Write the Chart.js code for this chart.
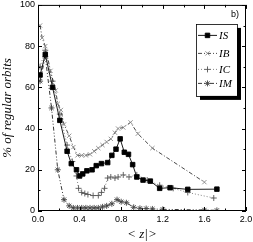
<!DOCTYPE html>
<html>
<head>
<meta charset="utf-8">
<script src="https://cdn.jsdelivr.net/npm/chart.js@4.4.0/dist/chart.umd.min.js"></script>
<style>
  html, body { margin: 0; padding: 0; background: #fff; }
  #wrap { width: 253px; height: 242px; }
</style>
</head>
<body>
<div id="wrap"><canvas id="myChart" width="253" height="242"></canvas></div>
<script>
// data
var isX = [0.02, 0.07, 0.14, 0.21, 0.28, 0.32, 0.37, 0.40, 0.43, 0.47, 0.52, 0.56, 0.61, 0.67, 0.71, 0.75, 0.79, 0.83, 0.87, 0.91, 0.95, 1.01, 1.08, 1.17, 1.27, 1.44, 1.72];
var isY = [66, 76, 60, 44, 29, 23, 20, 17, 18, 19.5, 20, 22, 23, 23.5, 27, 30, 35, 28.5, 27.5, 22.5, 16.5, 15, 14.5, 11, 11.3, 10.5, 10.6];

var ibX = [0.02, 0.04, 0.07, 0.12, 0.17, 0.19, 0.22, 0.25, 0.30, 0.34, 0.38, 0.42, 0.46, 0.50, 0.54, 0.58, 0.62, 0.66, 0.70, 0.74, 0.77, 0.82, 0.89, 0.96, 1.10, 1.60];
var ibY = [90, 84, 80, 68, 58.5, 52, 49, 42, 36.5, 31, 27, 27, 27, 27.5, 29, 30.5, 32, 33.5, 35, 38, 40, 40.5, 43, 37.5, 30.5, 14];

var icX = [0.02, 0.07, 0.14, 0.21, 0.28, 0.33, 0.37, 0.39, 0.42, 0.45, 0.48, 0.53, 0.58, 0.61, 0.64, 0.67, 0.70, 0.74, 0.77, 0.82, 0.875, 0.95, 1.05, 1.17, 1.30, 1.44, 1.69];
var icY = [70, 78, 63, 47, 32, 24, 17, 11, 9, 8.5, 8, 7.5, 7.5, 9, 11, 16, 16.5, 16, 16.5, 17.5, 16.5, 17.5, 15, 12.5, 11, 9, 6.3];

var imX = [0.02, 0.07, 0.13, 0.19, 0.25, 0.30, 0.34, 0.38, 0.42, 0.46, 0.50, 0.54, 0.58, 0.62, 0.66, 0.71, 0.76, 0.80, 0.85, 0.92, 0.98, 1.04, 1.10, 1.20, 1.60, 1.72];
var imY = [63, 75, 50, 20, 5.5, 2.5, 1.5, 1.5, 1.5, 1.5, 1.5, 1.5, 1.5, 2, 2.5, 3.5, 5.5, 4.5, 4, 1.8, 1.3, 1.2, 1, 0.8, 0.5, 0.3];

var xTicks = [0.0, 0.4, 0.8, 1.2, 1.6, 2.0];
var yTicks = [0, 20, 40, 60, 80, 100];
var seriesNames = ['IS', 'IB', 'IC', 'IM'];

function pts(xs, ys) {
    return xs.map(function (x, i) { return { x: x, y: ys[i] }; });
}

var styles = [
    { border: '#000', dash: [], point: 'rect', pointColor: '#000', radius: 3.2, fill: true },
    { border: '#333', dash: [4, 2, 1, 2], point: 'crossRot', pointColor: '#888', radius: 3, fill: false },
    { border: '#777', dash: [1, 2], point: 'cross', pointColor: '#555', radius: 3, fill: false },
    { border: '#222', dash: [4, 2, 1, 2, 1, 2], point: 'star', pointColor: '#444', radius: 3, fill: false }
];
var allX = [isX, ibX, icX, imX];
var allY = [isY, ibY, icY, imY];

var datasets = seriesNames.map(function (name, i) {
    var s = styles[i];
    return {
        label: name,
        data: pts(allX[i], allY[i]),
        borderColor: s.border,
        borderWidth: 0.9,
        borderDash: s.dash,
        pointStyle: s.point,
        pointRadius: s.radius,
        pointBorderColor: s.pointColor,
        pointBackgroundColor: s.fill ? s.pointColor : 'rgba(0,0,0,0)',
        pointBorderWidth: 0.9,
        fill: false,
        tension: 0
    };
});

// box, inward ticks, legend with shadow and the panel letter
var framePlugin = {
    id: 'frame',
    afterDraw: function (chart) {
        var ctx = chart.ctx, a = chart.chartArea;
        var xs = chart.scales.x, ys = chart.scales.y;
        ctx.save();
        ctx.strokeStyle = '#000';
        ctx.lineWidth = 1;
        ctx.setLineDash([]);
        ctx.strokeRect(a.left + 0.5, a.top + 0.5, a.right - a.left - 1, a.bottom - a.top - 1);
        ctx.beginPath();
        for (var v = 0; v <= 2.0001; v += 0.2) {
            var px = Math.round(xs.getPixelForValue(v)) + 0.5;
            var major = Math.abs(v / 0.4 - Math.round(v / 0.4)) < 0.01;
            var len = major ? 4 : 2.5;
            ctx.moveTo(px, a.bottom); ctx.lineTo(px, a.bottom - len);
            ctx.moveTo(px, a.top); ctx.lineTo(px, a.top + len);
        }
        for (var w = 0; w <= 100; w += 10) {
            var py = Math.round(ys.getPixelForValue(w)) + 0.5;
            var len2 = (w % 20 === 0) ? 4 : 2.5;
            ctx.moveTo(a.left, py); ctx.lineTo(a.left + len2, py);
            ctx.moveTo(a.right, py); ctx.lineTo(a.right - len2, py);
        }
        ctx.stroke();

        // panel letter
        ctx.fillStyle = '#000';
        ctx.font = '9px "Liberation Sans", Arial, sans-serif';
        ctx.textAlign = 'right';
        ctx.textBaseline = 'middle';
        ctx.fillText('b)', a.right - 7, a.top + 10);

        // legend
        var bx = a.left + 158, by = a.top + 19, bw = 41, bh = 72;
        ctx.fillStyle = '#000';
        ctx.fillRect(bx + 4, by + 4, bw, bh);
        ctx.fillStyle = '#fff';
        ctx.fillRect(bx, by, bw, bh);
        ctx.strokeStyle = '#000';
        ctx.lineWidth = 0.8;
        ctx.strokeRect(bx + 0.5, by + 0.5, bw, bh);
        var rowY = [by + 11, by + 29, by + 45, by + 59];
        ctx.font = 'italic 11px "Liberation Serif", "Times New Roman", serif';
        ctx.textAlign = 'left';
        for (var i = 0; i < 4; i++) {
            var s = styles[i];
            var yy = rowY[i] + 0.5;
            ctx.strokeStyle = s.border;
            ctx.lineWidth = 0.9;
            ctx.setLineDash(s.dash);
            ctx.beginPath();
            ctx.moveTo(bx + 2, yy); ctx.lineTo(bx + 21, yy);
            ctx.stroke();
            ctx.setLineDash([]);
            ctx.fillStyle = s.fill ? s.pointColor : 'rgba(0,0,0,0)';
            ctx.strokeStyle = s.pointColor;
            Chart.helpers.drawPoint(ctx, {
                pointStyle: s.point, radius: s.radius, borderWidth: 0.9, rotation: 0
            }, bx + 11.5, yy);
            ctx.fillStyle = '#000';
            ctx.fillText(seriesNames[i], bx + 23, yy + 1);
        }
        ctx.restore();
    }
};

var ctx = document.getElementById('myChart').getContext('2d');
var myChart = new Chart(ctx, {
    type: 'line',
    data: { datasets: datasets },
    options: {
        responsive: false,
        animation: false,
        events: [],
        layout: { padding: { top: 4, right: 7, left: 0, bottom: 0 } },
        plugins: { legend: { display: false }, tooltip: { enabled: false } },
        scales: {
            x: {
                type: 'linear',
                min: 0, max: 2.0,
                border: { display: false },
                grid: { display: false, drawTicks: false },
                afterBuildTicks: function (scale) {
                    scale.ticks = xTicks.map(function (v) { return { value: v }; });
                },
                afterFit: function (scale) {
                    scale.height = 31;
                    scale.paddingLeft = 0; scale.paddingRight = 0;
                },
                ticks: {
                    padding: 3, color: '#000', maxRotation: 0, autoSkip: false,
                    font: { family: '"Liberation Sans", Arial, sans-serif', size: 9 },
                    callback: function (v) { return v.toFixed(1); }
                },
                title: {
                    display: true, text: '< z|>', color: '#000',
                    padding: { top: 0, bottom: 0 },
                    font: { family: '"Liberation Serif", serif', size: 13, style: 'italic' }
                }
            },
            y: {
                min: 0, max: 100,
                border: { display: false },
                grid: { display: false, drawTicks: false },
                afterBuildTicks: function (scale) {
                    scale.ticks = yTicks.map(function (v) { return { value: v }; });
                },
                afterFit: function (scale) {
                    scale.width = 38;
                    scale.paddingTop = 0; scale.paddingBottom = 0;
                },
                ticks: {
                    padding: 3, color: '#000',
                    font: { family: '"Liberation Sans", Arial, sans-serif', size: 9 }
                },
                title: {
                    display: true, text: '% of regular orbits', color: '#000',
                    padding: { top: 0, bottom: 0 },
                    font: { family: '"Liberation Serif", serif', size: 13, style: 'italic' }
                }
            }
        }
    },
    plugins: [framePlugin]
});
</script>
</body>
</html>
